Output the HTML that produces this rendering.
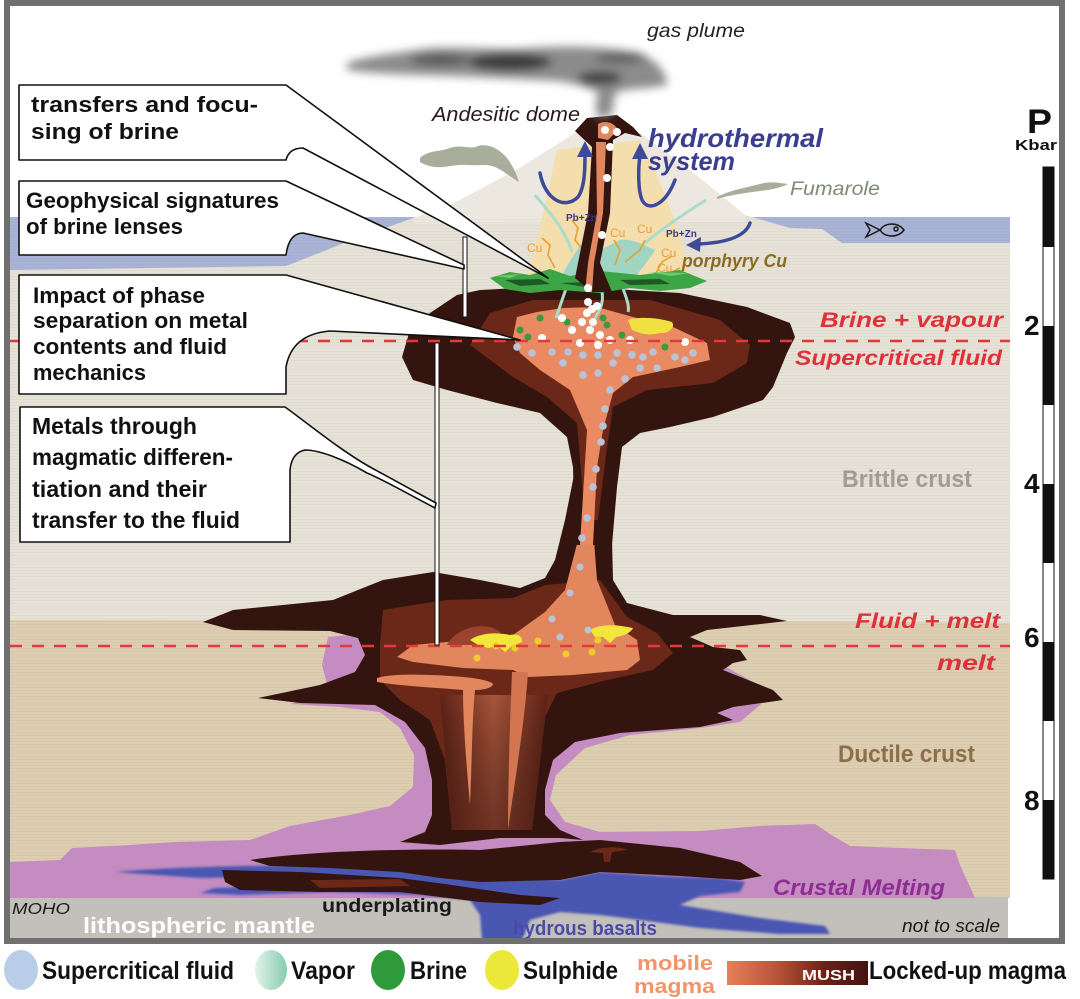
<!DOCTYPE html>
<html><head><meta charset="utf-8"><style>
html,body{margin:0;padding:0;background:#fff;}
svg{display:block;}
text{font-family:"Liberation Sans",sans-serif;}
</style></head><body>
<svg width="1080" height="999" viewBox="0 0 1080 999" xmlns="http://www.w3.org/2000/svg">
<defs>
<pattern id="tex" width="6" height="3" patternUnits="userSpaceOnUse"><rect width="6" height="1" fill="#7a6a50" opacity="0.06"/></pattern>
<linearGradient id="stem" x1="0" x2="1" y1="0" y2="0"><stop offset="0" stop-color="#5e2216"/><stop offset="0.5" stop-color="#a8553a"/><stop offset="1" stop-color="#5e2216"/></linearGradient>
<linearGradient id="stemv" x1="0" x2="0" y1="0" y2="1"><stop offset="0" stop-color="#000" stop-opacity="0"/><stop offset="1" stop-color="#3a1410" stop-opacity="0.5"/></linearGradient>
<linearGradient id="mush" x1="0" x2="1"><stop offset="0" stop-color="#e58058"/><stop offset="0.35" stop-color="#b8553a"/><stop offset="0.7" stop-color="#6a2016"/><stop offset="1" stop-color="#451210"/></linearGradient>
<linearGradient id="vap" x1="0" x2="1"><stop offset="0" stop-color="#e2f3ea"/><stop offset="1" stop-color="#88cbb0"/></linearGradient>
<filter id="blur" x="-20%" y="-80%" width="140%" height="260%"><feGaussianBlur stdDeviation="4.5"/></filter>
<filter id="blur2"><feGaussianBlur stdDeviation="1.2"/></filter>
</defs>

<!-- water -->
<rect x="10" y="217" width="420" height="58" fill="#a9b3d8"/>
<rect x="740" y="217" width="270" height="30" fill="#a9b3d8"/>

<!-- brittle crust -->
<path d="M10,270 L150,268 L286,266 L344,243 L413,218 L450,205 L520,168 L575,133 L640,133 L700,178 L745,215 L790,228 L822,229 L842,243 L1010,243 L1010,625 L10,625 Z" fill="#e7e2d7"/>
<path d="M413,218 L450,205 L520,168 L575,133 L640,133 L700,178 L745,215 L745,222 L413,224 Z" fill="#ece8e0"/>
<!-- ductile crust -->
<path d="M10,620 L790,621 L1010,623 L1010,898 L10,898 Z" fill="#ddcdb1"/>
<rect x="10" y="217" width="1000" height="680" fill="url(#tex)"/>
<!-- mantle -->
<path d="M10,889 L1008,897 L1008,938 L10,938 Z" fill="#c3bfba"/>

<!-- purple crustal melting -->
<path d="M10,862 L60,860 L72,848 L130,845 L175,842 L250,840 L290,826 L350,815 L390,806 L413,787 L414,755 L400,728 L380,712 L340,707 L290,704 L330,695 L322,665 L328,637 L370,633 L420,640 L430,700 L540,700 L700,650 L717,662 L773,693 L760,705 L740,722 L700,728 L630,735 L585,748 L556,775 L550,800 L565,822 L600,832 L700,831 L760,826 L815,824 L830,834 L850,846 L900,848 L955,850 L960,865 L975,898 L10,898 Z" fill="#c48cc0"/>

<!-- blue basalts -->
<path d="M115,872 C180,866 300,864 400,866 C430,868 450,874 470,876 L560,880 L600,872 L660,876 L720,878 L745,882 L740,892 L700,896 L680,905 L760,918 L825,926 L830,934 L780,934 L700,928 L640,920 L600,915 L560,912 L530,920 L522,940 L482,940 L480,915 L470,900 L420,895 L330,892 L240,895 L200,893 L215,888 L330,884 L420,882 L380,878 L300,876 L200,878 Z" fill="#4a56b2" filter="url(#blur2)"/>

<!-- underplating dark -->
<path d="M250,860 C300,852 400,848 480,850 L560,842 L600,840 L680,848 L740,862 L762,876 L740,880 L680,876 L600,872 L560,880 L480,882 L440,878 L400,872 L330,868 L270,866 Z" fill="#34140f"/>
<path d="M222,870 L300,872 L400,878 L445,884 L520,895 L560,898 L540,905 L480,902 L400,892 L320,892 L240,890 L225,882 Z" fill="#34140f"/>
<path d="M310,880 L400,879 L410,886 L320,888 Z" fill="#6b2818"/>
<path d="M590,852 C600,846 620,846 628,850 L612,852 L610,862 L604,862 L603,853 Z" fill="#6b2818"/>

<!-- lower complex dark -->
<path d="M575,470 L565,520 L555,560 L545,578 L520,588 L480,580 L433,572 L383,580 L333,600 L233,610 L203,622 L233,630 L330,631 L358,638 L365,655 L355,672 L320,685 L258,698 L300,703 L375,705 L405,722 L425,748 L432,780 L432,815 L425,832 L400,842 L440,845 L500,838 L560,838 L583,840 L560,830 L545,815 L545,790 L553,760 L575,742 L620,733 L700,727 L733,720 L717,713 L733,707 L783,700 L773,690 L723,670 L733,663 L747,660 L740,650 L713,647 L690,637 L707,630 L787,621 L760,615 L673,615 L627,603 L613,580 L612,540 L617,470 Z" fill="#34140f"/>
<!-- lower mid brown -->
<path d="M383,610 L413,605 L447,600 L513,598 L545,585 L600,580 L627,617 L657,633 L673,653 L653,670 L607,680 L557,693 L540,727 L530,830 L452,830 L445,760 L430,720 L400,700 L380,680 L380,645 Z" fill="#6b2818"/>
<path d="M440,695 L548,695 L532,830 L452,830 Z" fill="url(#stem)"/>
<path d="M440,695 L548,695 L532,830 L452,830 Z" fill="url(#stemv)"/>
<!-- lower orange -->
<path d="M585,470 L598,470 L594,540 L597,580 L615,625 L637,640 L640,660 L627,670 L573,675 L527,677 L513,670 L463,668 L413,662 L397,657 L413,645 L447,642 L513,635 L545,612 L565,590 L578,540 Z" fill="#e2865e"/>
<path d="M447,645 C455,628 485,620 500,632 L506,645 Z" fill="#9a4430"/>
<path d="M377,678 C390,674 420,674 450,676 C470,677 490,680 493,684 C492,689 480,690 475,690 C472,720 472,760 470,805 C466,760 463,720 463,690 C440,688 400,686 377,682 Z" fill="#e2865e"/>
<path d="M512,672 L528,672 C525,720 515,780 508,830 C508,780 510,720 512,672 Z" fill="#d27550"/>
<!-- sulphide lower -->
<path d="M470,640 C480,633 495,632 510,635 C518,633 523,637 522,642 L512,646 L505,652 L498,646 L488,648 L478,645 Z" fill="#f2e63a"/>
<path d="M590,630 C600,624 615,624 633,628 C630,634 622,636 616,637 L610,643 L603,637 L595,637 Z" fill="#f2e63a"/>
<g fill="#f0cc2a">
<circle cx="477" cy="658" r="3.5"/><circle cx="496" cy="646" r="3.5"/><circle cx="515" cy="648" r="3.5"/><circle cx="538" cy="641" r="3.5"/><circle cx="566" cy="654" r="3.5"/><circle cx="592" cy="652" r="3.5"/><circle cx="598" cy="640" r="3.5"/>
</g>
<g fill="#b9c3d8">
<circle cx="580" cy="567" r="3.5"/><circle cx="570" cy="593" r="3.5"/><circle cx="552" cy="619" r="3.5"/><circle cx="560" cy="637" r="3.5"/><circle cx="588" cy="630" r="3.5"/>
</g>

<!-- upper chamber -->
<path d="M402,357 L410,330 L430,313 L457,295 L480,290 L540,287 L613,289 L680,293 L747,307 L790,323 L795,337 L787,353 L773,387 L763,400 L713,417 L670,427 L640,433 L622,447 L617,487 L612,545 L575,545 L573,467 L567,437 L540,413 L497,403 L447,390 L413,380 Z" fill="#34140f"/>
<path d="M470,345 L490,313 L533,300 L650,300 L720,320 L750,345 L747,363 L713,383 L647,390 L613,407 L607,447 L598,520 L585,520 L577,423 L547,397 L513,377 Z" fill="#6b2818"/>
<path d="M513,337 L517,317 L537,312 L563,308 L597,307 L633,317 L673,327 L707,343 L710,360 L680,367 L633,377 L613,393 L603,430 L597,467 L593,545 L580,545 L587,430 L570,390 L540,370 L520,353 Z" fill="#ea8a62"/>
<path d="M628,320 C640,316 660,318 672,322 C676,328 668,334 660,333 C650,336 640,334 632,330 Z" fill="#f0e040"/>

<!-- volcano interior -->
<path d="M557,150 C548,190 540,230 528,275 L690,275 C680,230 665,190 640,140 Z" fill="#f5deae"/>
<g stroke="#a8dccb" stroke-width="3" fill="none">
<path d="M572,252 C565,230 552,215 535,195"/>
<path d="M640,247 C660,230 682,215 706,200"/>
<path d="M575,265 C568,282 562,300 556,318"/>
<path d="M600,285 C606,300 600,310 595,318"/>
<path d="M620,280 C625,295 630,305 628,312"/>
</g>
<path d="M560,282 C565,265 575,255 580,245 L600,250 L620,240 C630,238 645,245 655,250 C648,262 640,270 630,284 Z" fill="#9fd5c2"/>
<g stroke="#e8a030" stroke-width="1.6" fill="none">
<path d="M555,268 L548,255 L550,245 L542,238"/>
<path d="M583,250 L575,240 L578,228 L572,220"/>
<path d="M615,265 L620,250 L614,240"/>
<path d="M625,262 L640,250 L645,240"/>
<path d="M655,275 L662,262 L672,256"/>
<path d="M660,287 L668,274 L680,268"/>
</g>
<!-- brine green -->
<path d="M490,278 L510,272 L530,275 L550,269 L570,276 L600,271 L640,275 L680,270 L707,281 L690,288 L660,291 L630,288 L600,293 L560,290 L530,293 L505,289 Z" fill="#3ca545"/>
<path d="M505,280 L540,279 L550,284 L520,286 Z M620,280 L660,279 L670,284 L630,285 Z M560,283 L590,282 L585,287 Z" fill="#1f5a24"/>
<path d="M495,276 L520,274 L510,278 Z M650,272 L690,273 L670,276 Z" fill="#74c868"/>
<!-- conduit -->
<path d="M592,292 L575,278 L578,263 L588,213 L592,147 L575,131 L587,118 L617,115 L633,127 L642,137 L625,133 L613,140 L610,213 L600,263 L612,292 Z" fill="#34140f"/>
<path d="M596,142 L606,142 L603,213 L594,263 L592,292 L585,292 L588,263 L597,213 Z" fill="#e2865e"/>
<path d="M598,124 C605,120 614,122 618,130 L608,140 L598,138 Z" fill="#e2865e"/>

<!-- blue arrows -->
<g stroke="#3d4a9a" stroke-width="3.5" fill="none" stroke-linecap="round">
<path d="M540,173 C545,200 565,210 578,197 C585,187 585,168 585,153"/>
<path d="M675,180 C665,206 648,212 642,200 C638,190 638,170 640,155"/>
<path d="M750,223 C745,238 722,243 698,244"/>
</g>
<path d="M585,141 L577,157 L593,157 Z" fill="#3d4a9a"/>
<path d="M640,143 L632,159 L648,159 Z" fill="#3d4a9a"/>
<path d="M686,245 L701,237 L700,252 Z" fill="#3d4a9a"/>

<!-- fumaroles -->
<path d="M420,158 C428,150 440,152 450,148 C462,144 470,150 478,146 C490,143 500,150 507,158 C512,165 516,172 519,182 C512,178 505,172 497,168 C488,163 478,166 468,165 C455,164 445,168 435,167 C428,166 423,164 420,162 Z" fill="#a9ae9c"/>
<path d="M717,197 C730,190 745,188 760,184 C770,181 780,183 788,184 C780,188 770,190 760,191 C745,193 730,195 717,199 Z" fill="#a9ae9c"/>

<!-- gas plume -->
<g filter="url(#blur)">
<path d="M347,63 C370,55 400,53 430,48 C470,47 500,50 530,48 C570,45 610,47 640,53 C660,62 667,75 667,85 C650,89 630,88 617,92 C612,100 614,108 612,115 L597,118 C595,108 596,100 598,92 C580,84 560,80 540,80 C500,78 460,76 420,75 C390,74 370,73 347,70 Z" fill="#8c8c8c"/>
<ellipse cx="510" cy="62" rx="42" ry="9" fill="#3c3c3c"/>
<ellipse cx="600" cy="78" rx="22" ry="7" fill="#444"/>
<ellipse cx="440" cy="60" rx="30" ry="6" fill="#5a5a5a"/>
<ellipse cx="620" cy="58" rx="25" ry="6" fill="#666"/>
</g>

<!-- upper dots -->
<g fill="#b9c3d8">
<circle cx="517" cy="347" r="3.8"/><circle cx="532" cy="353" r="3.8"/><circle cx="552" cy="352" r="3.8"/><circle cx="568" cy="352" r="3.8"/><circle cx="583" cy="355" r="3.8"/><circle cx="598" cy="355" r="3.8"/><circle cx="617" cy="353" r="3.8"/><circle cx="632" cy="355" r="3.8"/><circle cx="643" cy="357" r="3.8"/><circle cx="653" cy="352" r="3.8"/><circle cx="675" cy="357" r="3.8"/><circle cx="685" cy="360" r="3.8"/><circle cx="693" cy="353" r="3.8"/><circle cx="563" cy="363" r="3.8"/><circle cx="583" cy="375" r="3.8"/><circle cx="598" cy="373" r="3.8"/><circle cx="613" cy="363" r="3.8"/><circle cx="625" cy="379" r="3.8"/><circle cx="640" cy="368" r="3.8"/><circle cx="657" cy="368" r="3.8"/><circle cx="610" cy="390" r="3.8"/><circle cx="605" cy="409" r="3.8"/><circle cx="603" cy="426" r="3.8"/><circle cx="601" cy="442" r="3.8"/><circle cx="596" cy="469" r="3.8"/><circle cx="593" cy="487" r="3.8"/><circle cx="587" cy="518" r="3.8"/><circle cx="582" cy="538" r="3.8"/>
</g>
<g fill="#3a9a40">
<circle cx="520" cy="330" r="3.5"/><circle cx="528" cy="337" r="3.5"/><circle cx="540" cy="318" r="3.5"/><circle cx="567" cy="322" r="3.5"/><circle cx="603" cy="318" r="3.5"/><circle cx="607" cy="325" r="3.5"/><circle cx="622" cy="335" r="3.5"/><circle cx="665" cy="347" r="3.5"/>
</g>
<g fill="#ffffff">
<circle cx="562" cy="318" r="4"/><circle cx="582" cy="322" r="4"/><circle cx="593" cy="322" r="4"/><circle cx="572" cy="330" r="4"/><circle cx="590" cy="330" r="4"/><circle cx="600" cy="335" r="4"/><circle cx="542" cy="338" r="4"/><circle cx="580" cy="343" r="4"/><circle cx="598" cy="345" r="4"/><circle cx="610" cy="340" r="4"/><circle cx="630" cy="340" r="4"/><circle cx="685" cy="342" r="4"/><circle cx="587" cy="313" r="4"/><circle cx="592" cy="309" r="4"/><circle cx="597" cy="306" r="4"/><circle cx="588" cy="288" r="4"/><circle cx="588" cy="302" r="4"/><circle cx="602" cy="235" r="4"/><circle cx="607" cy="178" r="4"/><circle cx="610" cy="147" r="4"/><circle cx="605" cy="130" r="4"/><circle cx="617" cy="132" r="4"/>
</g>

<!-- dashed lines -->
<line x1="10" y1="341" x2="1010" y2="341" stroke="#e23a3a" stroke-width="2.5" stroke-dasharray="12 10"/>
<line x1="10" y1="646" x2="1010" y2="646" stroke="#e23a3a" stroke-width="2.5" stroke-dasharray="12 10"/>

<!-- fish -->
<g stroke="#1a1a1a" stroke-width="1.5" fill="none">
<path d="M880,230 C885,222 898,222 904,230 C898,238 885,238 880,230 Z"/>
<path d="M880,230 L866,223 L870,230 L866,237 Z"/>
<circle cx="896" cy="229" r="2"/>
</g>

<!-- volcano labels -->
<text x="647" y="37" font-size="19" font-style="italic" fill="#222" textLength="98" lengthAdjust="spacingAndGlyphs">gas plume</text>
<text x="432" y="121" font-size="20" font-style="italic" fill="#2a1a1a" textLength="148" lengthAdjust="spacingAndGlyphs">Andesitic dome</text>
<text x="648" y="147" font-size="26" font-style="italic" font-weight="bold" fill="#3b3d8f" textLength="175" lengthAdjust="spacingAndGlyphs">hydrothermal</text>
<text x="648" y="170" font-size="26" font-style="italic" font-weight="bold" fill="#3b3d8f" textLength="87" lengthAdjust="spacingAndGlyphs">system</text>
<text x="790" y="195" font-size="19" font-style="italic" fill="#7e8a74" textLength="90" lengthAdjust="spacingAndGlyphs">Fumarole</text>
<text x="682" y="267" font-size="18" font-style="italic" font-weight="bold" fill="#8b6b22" textLength="105" lengthAdjust="spacingAndGlyphs">porphyry Cu</text>
<g font-size="12" fill="#e8a030">
<text x="527" y="252">Cu</text><text x="610" y="237">Cu</text><text x="637" y="233">Cu</text><text x="661" y="257">Cu</text><text x="657" y="272">Cu</text>
</g>
<g font-size="10" font-weight="bold" fill="#3a3a80">
<text x="566" y="221">Pb+Zn</text><text x="666" y="237">Pb+Zn</text>
</g>

<!-- right labels -->
<g font-weight="bold" font-style="italic" fill="#e0303a">
<text x="820" y="327" font-size="21" textLength="183" lengthAdjust="spacingAndGlyphs">Brine + vapour</text>
<text x="795" y="365" font-size="21" textLength="207" lengthAdjust="spacingAndGlyphs">Supercritical fluid</text>
<text x="855" y="628" font-size="21" textLength="145" lengthAdjust="spacingAndGlyphs">Fluid + melt</text>
<text x="937" y="670" font-size="21" textLength="58" lengthAdjust="spacingAndGlyphs">melt</text>
</g>
<text x="842" y="487" font-size="24" font-weight="bold" fill="#a29c92" textLength="130" lengthAdjust="spacingAndGlyphs">Brittle crust</text>
<text x="838" y="762" font-size="24" font-weight="bold" fill="#8c6f48" textLength="137" lengthAdjust="spacingAndGlyphs">Ductile crust</text>
<text x="773" y="895" font-size="22" font-weight="bold" font-style="italic" fill="#8e2e92" textLength="172" lengthAdjust="spacingAndGlyphs">Crustal Melting</text>
<text x="902" y="932" font-size="18" font-style="italic" fill="#1a1a1a" textLength="98" lengthAdjust="spacingAndGlyphs">not to scale</text>
<text x="12" y="914" font-size="16" font-style="italic" fill="#1a1a1a" textLength="58" lengthAdjust="spacingAndGlyphs">MOHO</text>
<text x="83" y="933" font-size="22" font-weight="bold" fill="#ffffff" textLength="232" lengthAdjust="spacingAndGlyphs">lithospheric mantle</text>
<text x="322" y="912" font-size="19" font-weight="bold" fill="#1a1a1a" textLength="130" lengthAdjust="spacingAndGlyphs">underplating</text>
<text x="513" y="935" font-size="20" font-weight="bold" fill="#4a4aa8" textLength="144" lengthAdjust="spacingAndGlyphs">hydrous basalts</text>

<!-- callout posts -->
<rect x="463" y="237" width="4" height="80" fill="#fff" stroke="#111" stroke-width="1"/>
<rect x="435" y="343" width="4" height="302" fill="#fff" stroke="#111" stroke-width="1"/>

<!-- callouts -->
<g fill="#ffffff" stroke="#111" stroke-width="1.6" stroke-linejoin="round">
<path d="M19,85 L286,85 L548,278 L303,148 C294,148 288,152 286,160 L19,160 Z"/>
<path d="M19,181 L286,181 L464,265 L464,269 L303,233 C294,233 288,240 286,255 L19,255 Z"/>
<path d="M19,275 L286,275 L520,340 L330,331 C305,333 290,345 286,367 L286,394 L19,394 Z"/>
<path d="M20,407 L285,407 C310,425 340,450 370,467 L436,503 L435,508 C410,495 380,478 367,473 C345,460 320,450 305,450 C295,452 291,460 290,470 L290,542 L20,542 Z"/>
</g>
<g font-weight="bold" fill="#111" font-size="22">
<text x="31" y="112" textLength="227" lengthAdjust="spacingAndGlyphs">transfers and focu-</text>
<text x="31" y="139" textLength="148" lengthAdjust="spacingAndGlyphs">sing of brine</text>
<text x="26" y="208" textLength="253" lengthAdjust="spacingAndGlyphs">Geophysical signatures</text>
<text x="26" y="234" textLength="157" lengthAdjust="spacingAndGlyphs">of brine lenses</text>
<text x="33" y="303" textLength="172" lengthAdjust="spacingAndGlyphs">Impact of phase</text>
<text x="33" y="328" textLength="215" lengthAdjust="spacingAndGlyphs">separation on metal</text>
<text x="33" y="354" textLength="194" lengthAdjust="spacingAndGlyphs">contents and fluid</text>
<text x="33" y="380" textLength="113" lengthAdjust="spacingAndGlyphs">mechanics</text>
</g>
<g font-weight="bold" fill="#111" font-size="23">
<text x="32" y="434" textLength="165" lengthAdjust="spacingAndGlyphs">Metals through</text>
<text x="32" y="465" textLength="201" lengthAdjust="spacingAndGlyphs">magmatic differen-</text>
<text x="32" y="497" textLength="175" lengthAdjust="spacingAndGlyphs">tiation and their</text>
<text x="32" y="528" textLength="208" lengthAdjust="spacingAndGlyphs">transfer to the fluid</text>
</g>

<!-- scale bar -->
<rect x="1043" y="167" width="11" height="712" fill="#fff" stroke="#111" stroke-width="1"/>
<g fill="#111">
<rect x="1043" y="167" width="11" height="80"/>
<rect x="1043" y="326" width="11" height="79"/>
<rect x="1043" y="484" width="11" height="79"/>
<rect x="1043" y="642" width="11" height="79"/>
<rect x="1043" y="800" width="11" height="79"/>
</g>
<text x="1027" y="133" font-size="34" font-weight="bold" fill="#111" textLength="25" lengthAdjust="spacingAndGlyphs">P</text>
<text x="1015" y="150" font-size="15" font-weight="bold" fill="#111" textLength="42" lengthAdjust="spacingAndGlyphs">Kbar</text>
<g font-size="28" font-weight="bold" fill="#111">
<text x="1024" y="335">2</text>
<text x="1024" y="493">4</text>
<text x="1024" y="647">6</text>
<text x="1024" y="810">8</text>
</g>

<!-- frame -->
<rect x="7" y="3" width="1055" height="938" fill="none" stroke="#707070" stroke-width="6"/>

<!-- legend -->
<ellipse cx="21" cy="970" rx="17" ry="20" fill="#b9cde8"/>
<text x="42" y="979" font-size="25" font-weight="bold" fill="#111" textLength="192" lengthAdjust="spacingAndGlyphs">Supercritical fluid</text>
<ellipse cx="271" cy="970" rx="16" ry="20" fill="url(#vap)"/>
<text x="291" y="979" font-size="25" font-weight="bold" fill="#111" textLength="64" lengthAdjust="spacingAndGlyphs">Vapor</text>
<ellipse cx="388" cy="970" rx="17" ry="20" fill="#2e9a3c"/>
<text x="410" y="979" font-size="25" font-weight="bold" fill="#111" textLength="57" lengthAdjust="spacingAndGlyphs">Brine</text>
<ellipse cx="502" cy="970" rx="17" ry="20" fill="#ece83a"/>
<text x="523" y="979" font-size="25" font-weight="bold" fill="#111" textLength="95" lengthAdjust="spacingAndGlyphs">Sulphide</text>
<text x="637" y="970" font-size="20" font-weight="bold" fill="#f0956a" textLength="76" lengthAdjust="spacingAndGlyphs">mobile</text>
<text x="634" y="993" font-size="20" font-weight="bold" fill="#f0956a" textLength="81" lengthAdjust="spacingAndGlyphs">magma</text>
<rect x="727" y="961" width="141" height="24" fill="url(#mush)"/>
<text x="802" y="980" font-size="15" font-weight="bold" fill="#fff" textLength="53" lengthAdjust="spacingAndGlyphs">MUSH</text>
<text x="869" y="979" font-size="25" font-weight="bold" fill="#111" textLength="197" lengthAdjust="spacingAndGlyphs">Locked-up magma</text>
</svg>
</body></html>
